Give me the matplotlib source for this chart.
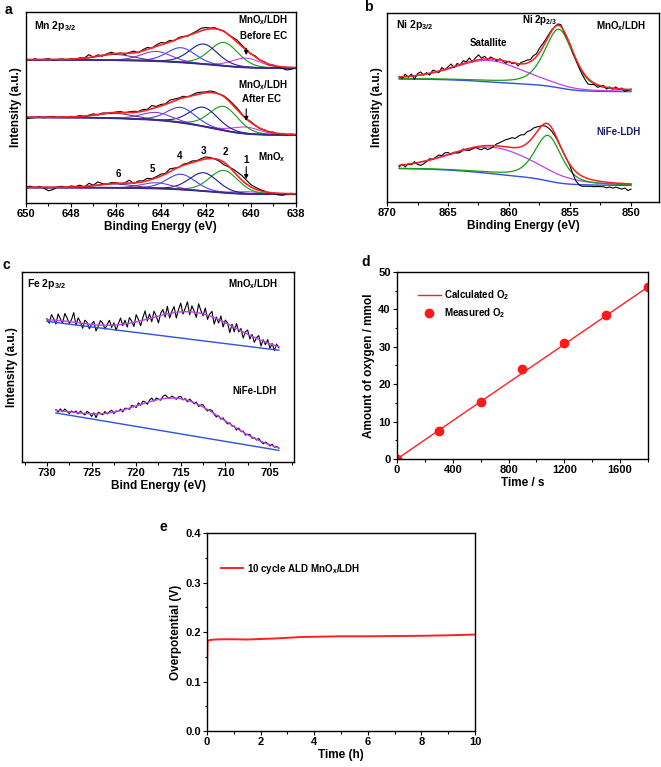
import numpy as np
import matplotlib
matplotlib.use('Agg')
import matplotlib.pyplot as plt
from matplotlib.ticker import MultipleLocator

plt.rcParams['font.family'] = ['Liberation Sans', 'DejaVu Sans']
plt.rcParams['font.weight'] = 'bold'
plt.rcParams['axes.labelweight'] = 'bold'
plt.rcParams['mathtext.fontset'] = 'custom'
plt.rcParams['mathtext.rm'] = 'Liberation Sans:bold'
plt.rcParams['mathtext.it'] = 'Liberation Sans:bold'
plt.rcParams['mathtext.bf'] = 'Liberation Sans:bold'
plt.rcParams['mathtext.default'] = 'rm'

# ---------------- a : Mn 2p3/2 ----------------
mn_energy = np.linspace(650, 638, 61)          # raw data grid (eV)
mn_centers = [640.2, 641.2, 642.1, 643.1, 644.2, 646.0]
mn_fwhm = [1.5, 1.5, 1.5, 1.5, 1.6, 1.9]
mn_before = [0.049, 0.123, 0.105, 0.077, 0.051, 0.030]
mn_after = [0.035, 0.126, 0.100, 0.080, 0.040, 0.026]
mn_bare = [0.012, 0.117, 0.096, 0.080, 0.030, 0.020]
mn_base_before = (0.750, 0.706)   # background at high / low BE end
mn_base_after = (0.448, 0.356)
mn_base_bare = (0.081, 0.046)
# raw minus fit (x1000)
mn_res_before = [2, -3, 4, -2, 1, 5, -4, 0, 3, -3,
                 2, -2, 4, 1, 15, -2, 6, -5, 3, 8,
                 -3, 2, -6, 4, 9, -4, 6, 10, -2, 7,
                 12, 3, 8, -3, 5, 2, -4, 3, 6, 12,
                 9, 3, 5, -2, 2, -3, 4, 10, 6, 2,
                 -3, 5, -2, 3, -4, 2, -5, -8, -15, -10,
                 -3]
mn_res_after = [-8, -4, -2, 3, -3, 2, 4, -2, 1, -3,
                3, 0, 5, -2, 2, 6, -3, 3, 0, -4,
                2, 5, -2, 4, 6, 2, 8, 3, 16, 4,
                7, 2, 12, 8, 4, 6, -2, 3, 8, 5,
                2, 6, 3, -2, 2, 4, 6, 8, 3, -2,
                4, 1, -3, 2, -2, 3, -3, 2, -4, 1,
                -2]
mn_res_bare = [3, 6, -2, 5, -4, -18, -12, 2, 5, -3,
               6, 2, 8, -3, 14, 2, 16, 4, -2, 5,
               3, -4, 2, 16, -3, 8, 4, 12, 3, 6,
               10, 3, 15, 6, -2, 5, 3, 8, 2, 6,
               10, 4, -2, -8, -14, -5, 8, 18, 24, 20,
               12, 10, 6, 4, -3, 2, -8, -10, -4, 2,
               -3]

# ---------------- b : Ni 2p3/2 ----------------
ni_energy = np.linspace(869, 850, 77)
ni_mn_peaks = [(855.9, 0.310, 2.8, 0.5), (861.6, 0.113, 6.8, 0.3)]
ni_ldh_peaks = [(856.8, 0.241, 2.6, 0.5), (861.3, 0.140, 8.2, 0.2)]
ni_mn_base = (0.651, 0.584)
ni_ldh_base = (0.177, 0.088)
ni_res_mn = [3, -8, 12, -5, 10, -18, 8, 15, -4, 6,
             -10, 12, 3, -8, 14, -3, 8, 18, -6, 10,
             -2, 15, 4, 20, -5, 12, 25, 6, 14, -4,
             10, 2, -8, 6, -3, -10, 4, -6, 2, -12,
             8, 12, 16, 10, 20, 14, 22, 18, 12, 8,
             4, -2, 6, 10, -6, -4, 2, -8, -6, -14,
             -20, -26, -30, -18, -8, -14, -4, 6, -10, 4,
             -6, 8, -3, 5, -12, -4, 3]
ni_res_ldh = [-8, 4, -12, 2, -6, 8, -10, -18, -14, -4,
              6, -2, 5, 12, 4, 14, 10, -4, 2, -8,
              -10, 4, -6, -12, -8, -2, -14, -20, -12, -22,
              -16, -4, 10, 18, 28, 38, 44, 52, 48, 58,
              62, 55, 60, 50, 44, 28, 10, -4, -16, -22,
              -20, -12, -6, -2, 2, 0, -8, -30, -50, -56,
              -54, -46, -40, -36, -34, -30, -28, -26, -30, -24,
              -28, -22, -26, -30, -24, -36, -28]

# ---------------- c : Fe 2p3/2 ----------------
fe_mn_energy = np.linspace(730, 704, 105)
fe_ldh_energy = np.linspace(729, 704, 101)
fe_mn_line = ((730, 0.740), (704, 0.588))
fe_ldh_line = ((729, 0.258), (704, 0.061))
fe_mn_peaks = [(713.5, 0.145, 4.7), (728.0, 0.012, 2.5)]
fe_ldh_peaks = [(715.0, 0.185, 4.8), (728.0, 0.012, 2.5)]
fe_res_mn = [5, -18, 28, 8, -20, 34, 10, -12, 40, 18,
             -10, 12, 50, -14, 26, 5, -26, 18, 8, -24,
             2, 18, -32, -6, 24, 10, -20, 4, 26, -12,
             12, -28, 6, 34, -8, 20, -18, 30, 8, -22,
             38, 10, -26, 14, 46, -10, 24, -20, 32, 4,
             -36, 12, 28, -14, 40, -24, 8, 32, -30, 14,
             46, -12, 18, 52, -16, 32, 6, -26, 48, 16,
             -10, 34, -22, 10, 28, -34, 8, -18, 24, -28,
             14, 4, -40, 10, -24, 26, -12, 12, -32, 6,
             22, -20, 10, -26, 4, 20, -30, 8, -14, 18,
             -24, 6, -28, 10, -6]
fe_res_ldh = [4, -8, 10, -4, 12, 2, -10, 6, -2, 8,
              -6, 10, 0, -8, 12, 4, -14, 6, -20, 8,
              2, -6, 10, -4, 6, 12, -8, 4, -2, 8,
              -10, 6, 2, -6, 10, 4, -8, 12, -4, 14,
              6, -10, 8, 16, -4, 10, 2, -6, 12, 18,
              6, -2, 10, 4, -6, 8, 12, -4, 6, -8,
              10, 2, -6, 8, -10, 4, 12, -2, -8, 6,
              10, -4, -10, 4, -6, 8, -2, -8, 6, -4,
              4, -10, 8, -2, 6, -8, 2, 8, -6, 4,
              -4, 10, -2, -8, 6, 2, -6, 8, -4, 4,
              -2]

# ---------------- d : O2 evolution ----------------
o2_time_calc = [0, 1800]
o2_calc = [0, 46]
o2_time_meas = [0, 300, 600, 900, 1200, 1500, 1800]
o2_meas = [0, 7.5, 15.2, 24.0, 31.0, 38.5, 46.0]

# ---------------- e : stability ----------------
stab_time = [0, 0.02, 0.1, 0.3, 0.6, 1.0, 1.5, 2.0, 2.5, 3.0, 3.5,
             4.0, 5.0, 6.0, 7.0, 8.0, 9.0, 10.0]
stab_eta = [0.124, 0.182, 0.184, 0.185, 0.1855, 0.1855, 0.185, 0.186,
            0.187, 0.1885, 0.19, 0.1905, 0.1915, 0.1915, 0.192, 0.1925,
            0.1935, 0.195]


def pv(E, c, h, w, eta=0.2):
    g = np.exp(-4 * np.log(2) * (E - c) ** 2 / w ** 2)
    lo = 1 / (1 + 4 * (E - c) ** 2 / w ** 2)
    return h * (eta * lo + (1 - eta) * g)


def shirley(peaksum, hi, lo):
    # energy arrays run from high BE to low BE
    c = np.cumsum(peaksum[::-1])
    c = c / c[-1]
    return (lo + (hi - lo) * c)[::-1]


def style(ax, xlabel, major, minor, fs=8):
    for s in ax.spines.values():
        s.set_linewidth(1.0)
    ax.xaxis.set_major_locator(MultipleLocator(major))
    ax.xaxis.set_minor_locator(MultipleLocator(minor))
    ax.tick_params(which='both', direction='out', top=False, right=False,
                   labelsize=fs, width=0.8, pad=1.5)
    ax.tick_params(which='major', length=3)
    ax.tick_params(which='minor', length=1.8)
    ax.set_xlabel(xlabel, fontsize=8.5, labelpad=1.5)


fig = plt.figure(figsize=(6.61, 7.67), dpi=100)

# ---- panel a ----
ax = fig.add_axes([0.0393, 0.7353, 0.408, 0.249])
fine = np.linspace(650, 638, 481)
mn_colors = ['#d63cf0', '#12a012', '#1a1a9a', '#4444ee', '#8a3cd0', '#6a3a7a']
for heights, base, res in [(mn_before, mn_base_before, mn_res_before),
                           (mn_after, mn_base_after, mn_res_after),
                           (mn_bare, mn_base_bare, mn_res_bare)]:
    comps = [pv(fine, c, h, w) for c, h, w in zip(mn_centers, heights, mn_fwhm)]
    bg = shirley(sum(comps), *base)
    for comp, col in zip(comps, mn_colors):
        ax.plot(fine, bg + comp, color=col, lw=0.8)
    ax.plot(fine, bg, color='#3b2a8a', lw=1.3)
    comps_r = [pv(mn_energy, c, h, w) for c, h, w in zip(mn_centers, heights, mn_fwhm)]
    bg_r = shirley(sum(comps_r), *base)
    ax.plot(mn_energy, bg_r + sum(comps_r) + np.array(res) / 1000, color='k', lw=0.8)
    ax.plot(fine, bg + sum(comps), color='#ff2020', lw=1.2)
ax.set_xlim(650, 638)
ax.set_ylim(0, 1)
ax.set_yticks([])
style(ax, 'Binding Energy (eV)', 2, 1)
ax.set_ylabel('Intensity (a.u.)', fontsize=8.5, labelpad=3)
tk = dict(fontsize=7, ha='center', va='center')
ax.text(649.66, 0.925, 'Mn 2p$_{3/2}$', fontsize=7.5, ha='left', va='center')
ax.text(639.45, 0.956, 'MnO$_x$/LDH', **tk)
ax.text(639.45, 0.876, 'Before EC', **tk)
ax.text(639.45, 0.618, 'MnO$_x$/LDH', **tk)
ax.text(639.53, 0.543, 'After EC', **tk)
ax.text(639.08, 0.242, 'MnO$_x$', **tk)
for lab, xx, yy in [('1', 640.19, 0.224), ('2', 641.14, 0.268), ('3', 642.09, 0.273),
                    ('4', 643.15, 0.245), ('5', 644.38, 0.180), ('6', 645.87, 0.154)]:
    ax.text(xx, yy, lab, **tk)
arr = dict(arrowstyle='-|>', color='k', lw=0.8, mutation_scale=6)
ax.annotate('', xy=(640.2, 0.760), xytext=(640.2, 0.825), arrowprops=arr)
ax.annotate('', xy=(640.2, 0.415), xytext=(640.2, 0.508), arrowprops=arr)
ax.annotate('', xy=(640.2, 0.110), xytext=(640.2, 0.205), arrowprops=arr)

# ---- panel b ----
ax = fig.add_axes([0.5855, 0.7366, 0.4115, 0.2464])
fine = np.linspace(869, 850, 381)
for peaks, base, res in [(ni_mn_peaks, ni_mn_base, ni_res_mn),
                         (ni_ldh_peaks, ni_ldh_base, ni_res_ldh)]:
    main = pv(fine, *peaks[0])
    sat = pv(fine, *peaks[1])
    bg = shirley(main + sat, *base)
    ax.plot(fine, bg, color='#3050e0', lw=1.0)
    ax.plot(fine, bg + sat, color='#c040f0', lw=0.9)
    ax.plot(fine, bg + main, color='#12a012', lw=0.9)
    main_r = pv(ni_energy, *peaks[0])
    sat_r = pv(ni_energy, *peaks[1])
    bg_r = shirley(main_r + sat_r, *base)
    ax.plot(ni_energy, bg_r + main_r + sat_r + np.array(res) / 1000, color='k', lw=0.8)
    ax.plot(fine, bg + main + sat, color='#ff2020', lw=1.1)
ax.set_xlim(870, 847.7)
ax.set_ylim(0, 1)
ax.set_yticks([])
style(ax, 'Binding Energy (eV)', 5, 2.5)
ax.set_ylabel('Intensity (a.u.)', fontsize=8.5, labelpad=3)
ax.text(869.3, 0.938, 'Ni 2p$_{3/2}$', fontsize=7.5, ha='left', va='center')
ax.text(857.5, 0.965, 'Ni 2p$_{2/3}$', **tk)
ax.text(861.7, 0.844, 'Satallite', **tk)
ax.text(850.8, 0.933, 'MnO$_x$/LDH', **tk)
ax.text(851.0, 0.372, 'NiFe-LDH', color='#1c1c6e', **tk)

# ---- panel c ----
ax = fig.add_axes([0.0333, 0.3977, 0.4115, 0.2477])
for en, line, peaks, res in [(fe_mn_energy, fe_mn_line, fe_mn_peaks, fe_res_mn),
                             (fe_ldh_energy, fe_ldh_line, fe_ldh_peaks, fe_res_ldh)]:
    (e0, y0), (e1, y1) = line
    fine = np.linspace(e0, e1, 400)
    bg = y0 + (y1 - y0) * (fine - e0) / (e1 - e0)
    fit = bg + sum(pv(fine, c, h, w * 2.3548, 0.0) for c, h, w in peaks)
    bg_r = y0 + (y1 - y0) * (en - e0) / (e1 - e0)
    fit_r = bg_r + sum(pv(en, c, h, w * 2.3548, 0.0) for c, h, w in peaks)
    ax.plot(en, fit_r + np.array(res) / 1000, color='k', lw=0.8)
    ax.plot(fine, fit, color='#c040f0', lw=1.0)
    ax.plot(fine, bg, color='#3050e0', lw=1.0)
ax.set_xlim(732.8, 702.3)
ax.set_ylim(0, 1)
ax.set_yticks([])
style(ax, 'Bind Energy (eV)', 5, 2.5)
ax.set_ylabel('Intensity (a.u.)', fontsize=8.5, labelpad=3)
ax.text(732.2, 0.935, 'Fe 2p$_{3/2}$', fontsize=7.5, ha='left', va='center')
ax.text(706.9, 0.935, 'MnO$_x$/LDH', **tk)
ax.text(706.7, 0.372, 'NiFe-LDH', **tk)

# ---- panel d ----
ax = fig.add_axes([0.6006, 0.4016, 0.3797, 0.2438])
ax.plot(o2_time_calc, o2_calc, color='#ff2020', lw=1.0, label='Calculated O$_2$')
ax.plot(o2_time_meas, o2_meas, 'o', color='#ff1a1a', ms=6, label='Measured O$_2$')
ax.set_xlim(0, 1800)
ax.set_ylim(0, 50)
style(ax, 'Time / s', 400, 200)
ax.yaxis.set_major_locator(MultipleLocator(10))
ax.yaxis.set_minor_locator(MultipleLocator(5))
ax.set_ylabel('Amount of oxygen / mmol', fontsize=8.5, labelpad=2)
ax.legend(loc='upper left', bbox_to_anchor=(0.05, 0.96), frameon=False, fontsize=7,
          handlelength=2.3, handletextpad=0.3, labelspacing=0.45)

# ---- panel e ----
ax = fig.add_axes([0.3132, 0.0469, 0.4054, 0.258])
ax.plot(stab_time, stab_eta, color='#ff2020', lw=1.4, label='10 cycle ALD MnO$_x$/LDH')
ax.set_xlim(0, 10)
ax.set_ylim(0, 0.4)
style(ax, 'Time (h)', 2, 1)
ax.yaxis.set_major_locator(MultipleLocator(0.1))
ax.yaxis.set_minor_locator(MultipleLocator(0.05))
ax.set_ylabel('Overpotential (V)', fontsize=8.5, labelpad=2)
ax.legend(loc='upper left', bbox_to_anchor=(0.02, 0.9), frameon=False, fontsize=7,
          handlelength=2.3, handletextpad=0.4)

# panel letters
for lab, px, py in [('a', 8, 10), ('b', 368, 7), ('c', 6, 265), ('d', 366, 262), ('e', 163, 527)]:
    fig.text(px / 661, 1 - py / 767, lab, fontsize=10, ha='center', va='center')

fig.savefig('out.png', dpi=100)
